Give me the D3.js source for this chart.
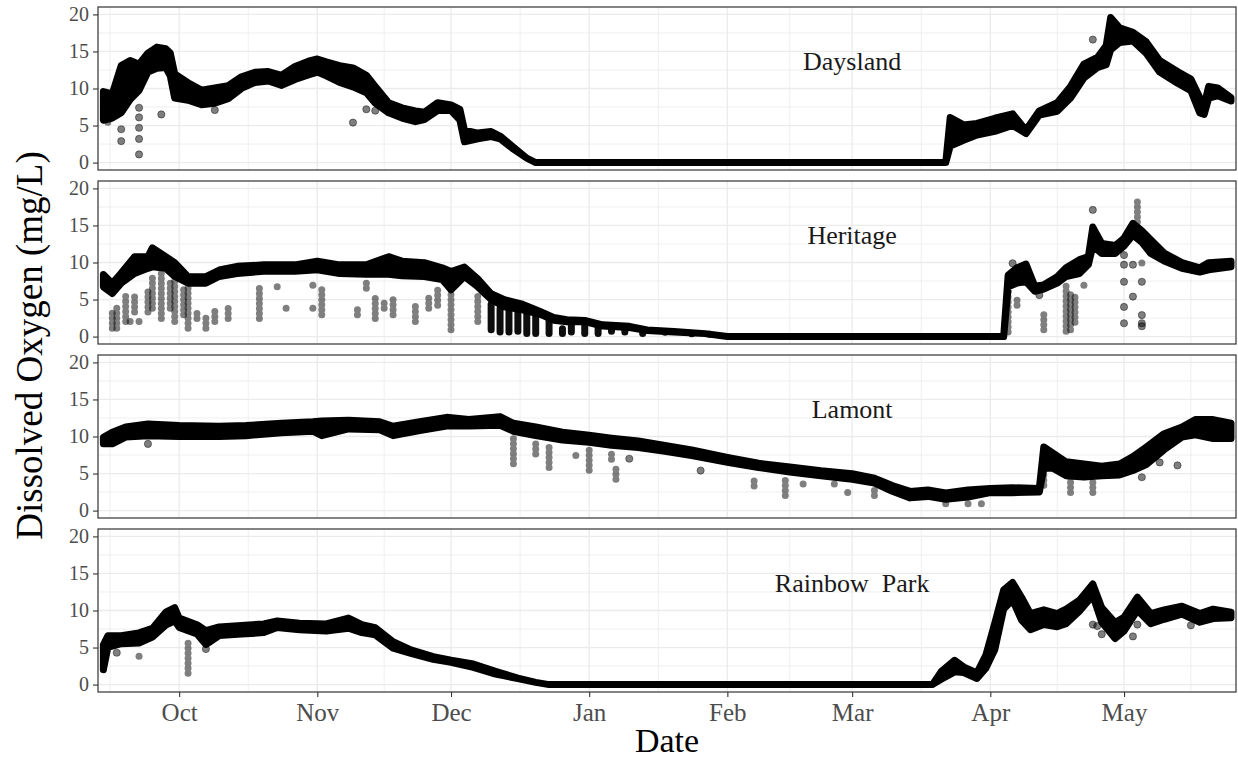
<!DOCTYPE html>
<html>
<head>
<meta charset="utf-8">
<script src="https://cdn.jsdelivr.net/npm/d3@7"></script>
<style>
  html, body { margin: 0; padding: 0; background: #ffffff; }
  svg { display: block; font-family: "Liberation Serif", "Times New Roman", serif; }
</style>
</head>
<body>
<script>
// ---------------- DATA ----------------
const sites = ["Daysland", "Heritage", "Lamont", "Rainbow  Park"];
const monthTicks = ["2018-10-01","2018-11-01","2018-12-01","2019-01-01","2019-02-01","2019-03-01","2019-04-01","2019-05-01"];
const monthLabels = ["Oct","Nov","Dec","Jan","Feb","Mar","Apr","May"];
const yTicks = [0, 5, 10, 15, 20];
const labelDate = "2019-03-01";
const labelValue = 13.6;

// main trace: [date, low, high] of the dense cloud of readings
const daysland = [
  ["2018-09-14",5.5,9.8],["2018-09-16",5.8,9.5],["2018-09-18",6.5,13.3],["2018-09-20",8.3,14],
  ["2018-09-22",9.5,13.5],["2018-09-24",12,15],["2018-09-26",12.5,15.8],["2018-09-28",12.6,15.6],
  ["2018-09-29",11.5,15],["2018-09-30",8.5,12.2],["2018-10-03",8.2,11],["2018-10-06",7.6,10],
  ["2018-10-09",7.8,10.3],["2018-10-12",8.4,10.6],["2018-10-15",9.8,11.8],["2018-10-18",10.6,12.4],
  ["2018-10-21",10.8,12.5],["2018-10-24",10.2,12],["2018-10-27",11,13.2],["2018-10-30",11.6,13.9],
  ["2018-11-01",12,14.2],["2018-11-03",11.5,13.8],["2018-11-06",10.6,13.3],["2018-11-09",10,13],
  ["2018-11-12",9.2,12],["2018-11-14",7.8,10.5],["2018-11-17",6.5,8.3],["2018-11-20",5.8,7.6],
  ["2018-11-23",5.3,7.2],["2018-11-25",5.6,7.0],["2018-11-28",6.8,8.3],["2018-12-01",6.8,8.0],
  ["2018-12-03",5.5,7.4],["2018-12-04",2.6,4.6],["2018-12-07",3.0,4.2],["2018-12-10",3.3,4.4],
  ["2018-12-12",3.0,3.8],["2018-12-15",1.6,2.3],["2018-12-18",0.4,0.8],["2018-12-20",0,0],
  ["2019-03-22",0,0],["2019-03-23",2,6.3],["2019-03-26",2.8,5.3],["2019-03-29",3.5,5.5],
  ["2019-04-02",4,6.2],["2019-04-06",4.8,6.8],["2019-04-09",3.7,4.6],["2019-04-12",6.2,7.2],
  ["2019-04-16",6.7,8.3],["2019-04-19",8.5,10.5],["2019-04-22",11.2,13.5],["2019-04-25",12.6,14.4],
  ["2019-04-27",13,16],["2019-04-28",15,19.8],["2019-04-30",16,18.4],["2019-05-03",16.2,17.8],
  ["2019-05-06",14.5,16.5],["2019-05-09",12,14],["2019-05-13",10.5,12.5],["2019-05-16",9.5,11.5],
  ["2019-05-18",6.5,9],["2019-05-19",6.3,8],["2019-05-20",8.5,10.5],["2019-05-22",8.8,10.3],
  ["2019-05-25",8.1,9.0]
];
const heritage = [
  ["2018-09-14",6.5,8.6],["2018-09-16",5.6,7.4],["2018-09-18",7,8.8],["2018-09-21",8.3,11],
  ["2018-09-24",9,11],["2018-09-25",9.2,12.2],["2018-09-28",9,11],["2018-09-30",7.9,10.2],
  ["2018-10-03",7,8.3],["2018-10-07",7,8.3],["2018-10-10",7.9,9.2],["2018-10-14",8.3,9.7],
  ["2018-10-20",8.6,9.9],["2018-10-27",8.6,9.9],["2018-11-01",8.8,10.4],["2018-11-06",8.3,9.9],
  ["2018-11-12",8.2,9.9],["2018-11-17",8.2,11],["2018-11-20",8,10.4],["2018-11-25",7.9,10.2],
  ["2018-11-29",7.5,9.5],["2018-12-01",6.1,9.0],["2018-12-04",7.9,9.6],["2018-12-07",6.5,8.0],
  ["2018-12-10",4.8,6],["2018-12-13",3.8,5.2],["2018-12-17",3.4,4.6],["2018-12-21",2.8,3.6],
  ["2018-12-24",2.0,2.8],["2018-12-27",1.8,2.5],["2018-12-31",1.8,2.4],["2019-01-04",1.2,1.8],
  ["2019-01-10",1.0,1.6],["2019-01-14",0.6,1.1],["2019-01-20",0.4,0.9],["2019-01-27",0.2,0.6],
  ["2019-02-01",0,0],["2019-04-04",0,0],["2019-04-05",6.5,8.5],["2019-04-07",7,9.5],
  ["2019-04-09",7.2,10],["2019-04-11",5.9,7],["2019-04-13",6.2,7.2],["2019-04-16",7,8.3],
  ["2019-04-18",7.9,9.5],["2019-04-21",8.3,10.6],["2019-04-23",9.5,11],["2019-04-24",12,15],
  ["2019-04-26",11,12.8],["2019-04-29",11,12.5],["2019-05-01",12,13.5],["2019-05-03",13.5,15.5],
  ["2019-05-05",12.5,14.5],["2019-05-07",11,13.3],["2019-05-10",10,11.5],["2019-05-14",9,10.2],
  ["2019-05-18",8.5,9.5],["2019-05-20",8.8,10.2],["2019-05-25",9.2,10.4]
];
const lamont = [
  ["2018-09-14",8.8,10.1],["2018-09-16",8.8,10.8],["2018-09-19",9.7,11.5],["2018-09-24",9.9,11.9],
  ["2018-10-01",9.8,11.7],["2018-10-10",9.8,11.6],["2018-10-16",9.9,11.7],["2018-10-24",10.3,12],
  ["2018-10-31",10.5,12.2],["2018-11-02",9.9,12.3],["2018-11-08",10.8,12.4],["2018-11-15",10.7,12.2],
  ["2018-11-18",9.9,11.6],["2018-11-24",10.6,12.2],["2018-11-30",11.2,12.8],["2018-12-05",11.2,12.5],
  ["2018-12-12",11.3,12.9],["2018-12-15",10.5,12],["2018-12-20",9.9,11.5],["2018-12-26",9.3,10.8],
  ["2019-01-01",9.0,10.4],["2019-01-06",8.6,10],["2019-01-12",8.3,9.6],["2019-01-18",7.8,9],
  ["2019-01-24",7.2,8.4],["2019-02-01",6.3,7.4],["2019-02-08",5.6,6.6],["2019-02-15",5.0,6.1],
  ["2019-02-22",4.5,5.6],["2019-03-01",4.0,5.2],["2019-03-06",3.5,4.6],["2019-03-10",2.4,3.6],
  ["2019-03-14",1.5,2.8],["2019-03-18",1.7,3.0],["2019-03-22",1.3,2.6],["2019-03-27",1.6,3.0],
  ["2019-04-01",2.2,3.2],["2019-04-06",2.2,3.3],["2019-04-12",2.3,3.2],["2019-04-13",5.5,8.8],
  ["2019-04-15",5.5,8.0],["2019-04-18",4.5,6.8],["2019-04-22",4.3,6.5],["2019-04-26",4.5,6.2],
  ["2019-04-30",4.6,6.5],["2019-05-03",5.2,7.5],["2019-05-06",6.0,8.8],["2019-05-10",8.0,10.6],
  ["2019-05-14",9.7,11.5],["2019-05-17",10,12.5],["2019-05-21",9.5,12.5],["2019-05-25",9.5,12.0]
];
const rainbow = [
  ["2018-09-14",1.8,5.6],["2018-09-15",4.8,6.8],["2018-09-18",5.3,6.8],["2018-09-22",5.4,7.2],
  ["2018-09-25",6.2,7.8],["2018-09-28",7.8,10.0],["2018-09-30",8.4,10.6],["2018-10-01",7.5,9.2],
  ["2018-10-05",6.6,8.3],["2018-10-07",5.2,7.5],["2018-10-10",6.4,8.0],["2018-10-15",6.6,8.2],
  ["2018-10-20",6.8,8.4],["2018-10-23",7.5,8.8],["2018-10-28",7.2,8.5],["2018-11-03",7.0,8.4],
  ["2018-11-08",7.4,9.2],["2018-11-11",6.8,8.3],["2018-11-14",6.5,7.9],["2018-11-18",4.7,6.0],
  ["2018-11-22",4.0,4.9],["2018-11-27",3.2,4.0],["2018-12-01",2.8,3.5],["2018-12-06",2.1,3.0],
  ["2018-12-11",1.2,2.0],["2018-12-16",0.6,1.1],["2018-12-20",0.2,0.4],["2018-12-23",0,0],
  ["2019-03-19",0,0],["2019-03-21",0.5,2.0],["2019-03-24",1.5,3.5],["2019-03-26",1.4,2.6],
  ["2019-03-29",0.6,1.8],["2019-03-31",2.0,4.2],["2019-04-02",4.5,8.5],["2019-04-04",10.0,13.0],
  ["2019-04-06",11.2,14.0],["2019-04-08",8.5,12.0],["2019-04-10",7.2,9.8],["2019-04-13",7.9,10.3],
  ["2019-04-16",7.6,9.8],["2019-04-18",8.0,10.4],["2019-04-21",9.7,11.6],["2019-04-24",11.8,13.8],
  ["2019-04-26",8.2,10.6],["2019-04-29",6.0,8.6],["2019-05-01",7.0,9.3],["2019-05-04",9.8,12.0],
  ["2019-05-07",8.0,9.8],["2019-05-10",8.6,10.3],["2019-05-14",9.3,10.8],["2019-05-18",8.2,9.8],
  ["2019-05-21",8.7,10.4],["2019-05-25",8.8,10.0]
];

// runs of low readings that hang below the trace: [date, low, high]
const dayslandDrops = [["2018-09-15",5,7],["2018-09-17",6,9]];
const heritageDrops = [
  ["2018-09-16",0.7,4.1],["2018-09-17",0.7,4.7],["2018-09-19",1.6,6.5],["2018-09-20",1.6,2.5],
  ["2018-09-21",2.9,6],["2018-09-22",1.6,2.9],["2018-09-24",2.9,6.5],["2018-09-25",3.4,8.8],
  ["2018-09-27",2,10],["2018-09-29",3.4,7.9],["2018-09-30",1.6,8.8],["2018-10-02",2.5,7],
  ["2018-10-03",0.7,7.9],["2018-10-05",2,3.8],["2018-10-07",0.7,3.4],["2018-10-09",1.6,4.3],
  ["2018-10-12",2,4.7],["2018-10-19",2,7],["2018-10-23",6.3,7.7],["2018-10-25",3.4,4.7],
  ["2018-10-31",3.4,4.3],["2018-10-31",6.5,7.9],["2018-11-02",2.5,7],["2018-11-10",2.5,4.7],
  ["2018-11-12",6.1,7.9],["2018-11-14",2,6],["2018-11-16",3.4,5.6],["2018-11-18",2.5,6],
  ["2018-11-23",1.6,4.7],["2018-11-26",3.4,6],["2018-11-28",3.8,7],["2018-12-01",0.5,7.9],
  ["2018-12-07",1.6,6],["2019-04-05",0.2,7.9],["2019-04-07",3.8,5.6],["2019-04-13",0.5,3.4],
  ["2019-04-18",0.3,7.4],["2019-04-19",0.5,6.5],["2019-04-20",1.5,6],["2019-04-22",6.5,7.4],
  ["2019-05-04",13,18.9],["2019-05-05",9.5,11]
];
const heritageStems = [
  ["2018-12-10",0.5,4.8],["2018-12-12",0.2,4.2],["2018-12-14",0.2,4],["2018-12-16",0.3,3.8],
  ["2018-12-18",0,3.5],["2018-12-20",0,3.3],["2018-12-23",0,2.8],["2018-12-26",0,1.5],
  ["2018-12-28",0.2,2.3],["2018-12-31",0,2.4],["2019-01-03",0,2],["2019-01-06",0.3,1.8],
  ["2019-01-09",0.2,1.5],["2019-01-13",0,1.3],["2019-01-18",0.2,1.0],["2019-01-24",0,0.8],
  ["2019-01-28",0,0.6]
];
const lamontDrops = [
  ["2018-12-15",5.9,10.6],["2018-12-20",7.2,9.7],["2018-12-23",5.4,9.2],["2018-12-29",7,8.3],
  ["2019-01-01",5,8.8],["2019-01-06",6.5,8.3],["2019-01-07",3.8,6.5],["2019-02-07",2.9,4.7],
  ["2019-02-14",1.6,4.7],["2019-02-18",3.4,3.8],["2019-02-25",3.4,3.8],["2019-02-28",2,3.4],
  ["2019-03-06",1.6,3.4],["2019-03-22",0.5,1.5],["2019-03-27",0.5,1.5],["2019-03-30",0.5,1.5],
  ["2019-04-13",3,8.5],["2019-04-19",2,5],["2019-04-24",2,4.5]
];
const rainbowDrops = [
  ["2018-09-14",1.6,3.8],["2018-09-22",3.4,4.3],["2018-10-03",1.1,6.1],["2019-04-17",8.8,10.5]
];

// isolated readings: [date, value]
const dayslandPoints = [
  ["2018-09-18",4.5],["2018-09-18",2.9],["2018-09-22",7.4],["2018-09-22",6.1],["2018-09-22",4.7],
  ["2018-09-22",3.2],["2018-09-22",1.1],["2018-09-27",6.5],["2018-09-30",9.2],["2018-10-09",7.1],
  ["2018-11-09",5.4],["2018-11-12",7.2],["2018-11-14",7.0],["2019-04-24",16.6],["2019-05-17",8.5]
];
const heritagePoints = [
  ["2019-04-06",9.9],["2019-04-06",8.3],["2019-04-12",5.6],["2019-04-24",17.1],
  ["2019-05-01",11],["2019-05-01",9.7],["2019-05-01",7.4],["2019-05-01",4],["2019-05-01",1.8],
  ["2019-05-03",9.7],["2019-05-03",5.4],["2019-05-05",7.4],["2019-05-05",2.9],["2019-05-05",1.8],
  ["2019-05-05",1.4]
];
const lamontPoints = [
  ["2018-09-24",9.0],["2019-01-10",7.0],["2019-01-26",5.4],["2019-05-05",4.5],
  ["2019-05-09",6.5],["2019-05-13",6.1]
];
const rainbowPoints = [
  ["2018-09-17",4.3],["2018-10-07",4.8],["2019-04-24",8.1],["2019-04-25",7.9],
  ["2019-04-26",6.8],["2019-05-03",6.5],["2019-05-04",8.1],["2019-05-16",8.0]
];

const bands = [daysland, heritage, lamont, rainbow];
const drops = [dayslandDrops, heritageDrops, lamontDrops, rainbowDrops];
const stems = [[], heritageStems, [], []];
const points = [dayslandPoints, heritagePoints, lamontPoints, rainbowPoints];

// ---------------- DRAW ----------------
const W = 1238, H = 761;
const L = 98, R = 1236, top0 = 7, ph = 163, gap = 11;
const DOT = 7;            // marker diameter in px
const INSET = 1.6;
const parseDay = d3.timeParse("%Y-%m-%d");

const svg = d3.select("body").append("svg").attr("width", W).attr("height", H);

const x = d3.scaleTime()
  .domain([new Date(2018, 8, 12, 19), new Date(2019, 4, 26, 3)])
  .range([L, R]);

const majors = monthTicks.map(parseDay);
const minors = [];
const dom = x.domain();
const firstMid = new Date(+majors[0] - (majors[1] - majors[0]) / 2);
if (firstMid >= dom[0]) minors.push(firstMid);
for (let i = 0; i < majors.length - 1; i++) minors.push(new Date((+majors[i] + +majors[i + 1]) / 2));
const n = majors.length;
const lastMid = new Date(+majors[n - 1] + (majors[n - 1] - majors[n - 2]) / 2);
if (lastMid <= dom[1]) minors.push(lastMid);

const yMinor = [];
for (let i = 0; i < yTicks.length - 1; i++) yMinor.push((yTicks[i] + yTicks[i + 1]) / 2);

const GRID = "#ebebeb";

// lo/hi were read near the outer edge of the markers: pull ends in a little
function innerLo(y, r, k) { const a = y(r[1]), b = y(r[2]); return Math.max(a - k, (a + b) / 2); }
function innerHi(y, r, k) { const a = y(r[1]), b = y(r[2]); return Math.min(b + k, (a + b) / 2); }

sites.forEach((site, i) => {
  const T = top0 + i * (ph + gap);
  const y = d3.scaleLinear().domain([-1, 21]).range([T + ph, T]);
  const g = svg.append("g");

  g.append("rect").attr("x", L).attr("y", T).attr("width", R - L).attr("height", ph).attr("fill", "#fff");

  // grid
  g.selectAll(".vminor").data(minors).join("line").attr("class", "vminor")
    .attr("x1", d => x(d)).attr("x2", d => x(d)).attr("y1", T).attr("y2", T + ph)
    .attr("stroke", GRID).attr("stroke-width", 0.8);
  g.selectAll(".hminor").data(yMinor).join("line").attr("class", "hminor")
    .attr("x1", L).attr("x2", R).attr("y1", d => y(d)).attr("y2", d => y(d))
    .attr("stroke", GRID).attr("stroke-width", 0.8);
  g.selectAll(".vmajor").data(majors).join("line").attr("class", "vmajor")
    .attr("x1", d => x(d)).attr("x2", d => x(d)).attr("y1", T).attr("y2", T + ph)
    .attr("stroke", GRID).attr("stroke-width", 1.3);
  g.selectAll(".hmajor").data(yTicks).join("line").attr("class", "hmajor")
    .attr("x1", L).attr("x2", R).attr("y1", d => y(d)).attr("y2", d => y(d))
    .attr("stroke", GRID).attr("stroke-width", 1.3);

  const clipId = "clip" + i;
  svg.append("clipPath").attr("id", clipId).append("rect")
    .attr("x", L).attr("y", T).attr("width", R - L).attr("height", ph);
  const d = g.append("g").attr("clip-path", `url(#${clipId})`);

  // drops: columns of overlapping semi-transparent readings
  d.selectAll(".drop").data(drops[i]).join("line").attr("class", "drop")
    .attr("x1", r => x(parseDay(r[0]))).attr("x2", r => x(parseDay(r[0])))
    .attr("y1", r => innerLo(y, r, 3.2)).attr("y2", r => innerHi(y, r, 3.2))
    .attr("stroke", "#000").attr("stroke-opacity", 0.5)
    .attr("stroke-width", DOT).attr("stroke-linecap", "round")
    .attr("stroke-dasharray", "0 5");

  // main trace
  const area = d3.area()
    .x(r => x(parseDay(r[0])))
    .y0(r => innerLo(y, r, INSET))
    .y1(r => innerHi(y, r, INSET));
  d.append("path").datum(bands[i]).attr("d", area)
    .attr("fill", "#000").attr("stroke", "#000").attr("stroke-width", DOT)
    .attr("stroke-linejoin", "round").attr("stroke-linecap", "round");

  d.selectAll(".stem").data(stems[i]).join("line").attr("class", "stem")
    .attr("x1", r => x(parseDay(r[0]))).attr("x2", r => x(parseDay(r[0])))
    .attr("y1", r => innerLo(y, r, 3.2)).attr("y2", r => innerHi(y, r, 3.2))
    .attr("stroke", "#000").attr("stroke-opacity", 0.95)
    .attr("stroke-width", DOT).attr("stroke-linecap", "round");

  d.selectAll(".pt").data(points[i]).join("circle").attr("class", "pt")
    .attr("cx", r => x(parseDay(r[0]))).attr("cy", r => y(r[1])).attr("r", 3.6)
    .attr("fill", "#000").attr("fill-opacity", 0.5)
    .attr("stroke", "#000").attr("stroke-opacity", 0.55).attr("stroke-width", 0.8);

  // site label
  g.append("text")
    .attr("x", x(parseDay(labelDate))).attr("y", y(labelValue))
    .attr("text-anchor", "middle").attr("dominant-baseline", "central")
    .attr("font-size", 26).attr("fill", "#1a1a1a")
    .style("white-space", "pre")
    .text(site);

  // border
  g.append("rect").attr("x", L).attr("y", T).attr("width", R - L).attr("height", ph)
    .attr("fill", "none").attr("stroke", "#333333").attr("stroke-width", 1.2);

  // y axis
  const ya = g.append("g").attr("transform", `translate(${L},0)`)
    .call(d3.axisLeft(y).tickValues(yTicks).tickSize(5).tickPadding(4));
  ya.select(".domain").remove();
  ya.selectAll(".tick line").attr("stroke", "#333333").attr("stroke-width", 1.1);
  ya.selectAll(".tick text").attr("fill", "#4d4d4d").attr("font-size", 20)
    .attr("font-family", "Liberation Serif, Times New Roman, serif");

  if (i === sites.length - 1) {
    const xa = g.append("g").attr("transform", `translate(0,${T + ph})`)
      .call(d3.axisBottom(x).tickValues(majors)
        .tickFormat((v, k) => monthLabels[k]).tickSize(5).tickPadding(6));
    xa.select(".domain").remove();
    xa.selectAll(".tick line").attr("stroke", "#333333").attr("stroke-width", 1.1);
    xa.selectAll(".tick text").attr("fill", "#4d4d4d").attr("font-size", 25)
      .attr("font-family", "Liberation Serif, Times New Roman, serif");
  }
});

// axis titles
svg.append("text").attr("x", (L + R) / 2).attr("y", 752)
  .attr("text-anchor", "middle").attr("font-size", 34).attr("fill", "#000").text("Date");
svg.append("text")
  .attr("transform", `translate(42,${(top0 + top0 + 4 * ph + 3 * gap) / 2 - 4}) rotate(-90)`)
  .attr("text-anchor", "middle").attr("font-size", 37).attr("fill", "#000")
  .text("Dissolved Oxygen (mg/L)");
</script>
</body>
</html>
